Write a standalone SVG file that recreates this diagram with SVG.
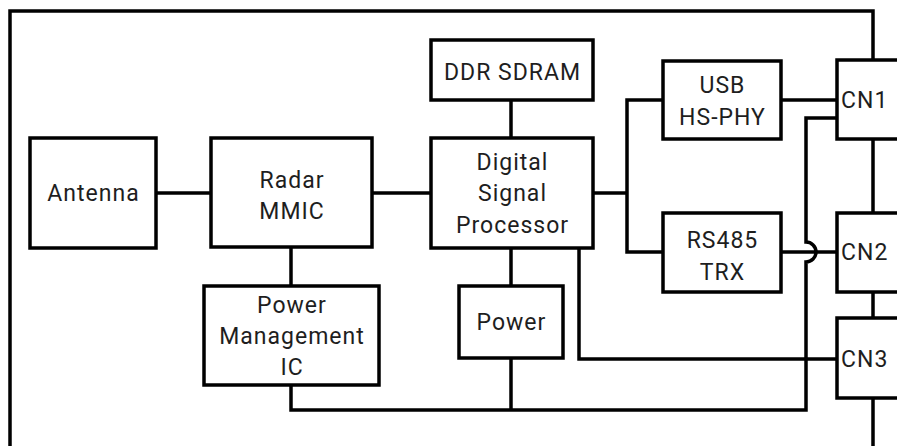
<svg xmlns="http://www.w3.org/2000/svg" width="897" height="446" viewBox="0 0 897 446">
  <style>
    .box { fill: #ffffff; stroke: #000000; stroke-width: 3.5; }
    .wire { fill: none; stroke: #000000; stroke-width: 3.5; stroke-linejoin: miter; }
    .lbl { font-family: Roboto, "Liberation Sans", sans-serif; font-size: 23px; letter-spacing: 1px; fill: #1e1e1e; text-anchor: middle; }
    .cn { font-family: Roboto, "Liberation Sans", sans-serif; font-size: 23px; letter-spacing: 1px; fill: #1e1e1e; }
  </style>
  <rect width="897" height="446" fill="#ffffff"/>

  <!-- enclosure outline -->
  <path class="wire" d="M10,446 V11 H873 V446"/>

  <!-- connectors -->
  <g id="connectors">
    <path class="wire" d="M156,193 H211"/>
    <path class="wire" d="M372,193 H431"/>
    <path class="wire" d="M511,100 V138"/>
    <path class="wire" d="M593,193 H627"/>
    <path class="wire" d="M663,100 H627 V252 H663"/>
    <path class="wire" d="M781,100 H837"/>
    <path class="wire" d="M781,252 H837"/>
    <path class="wire" d="M579,248 V359 H837"/>
    <path class="wire" d="M291,247 V286"/>
    <path class="wire" d="M511,248 V286"/>
    <path class="wire" d="M511,358 V410"/>
    <path class="wire" d="M291,385 V410 H806 V262 A10,10 0 0 0 806,242 V118 H837"/>
  </g>

  <g id="antenna">
    <rect class="box" x="30" y="138" width="126" height="110"/>
    <text class="lbl" x="93.5" y="201">Antenna</text>
  </g>

  <g id="radar-mmic">
    <rect class="box" x="211" y="138" width="161" height="109"/>
    <text class="lbl" x="292" y="188">Radar</text>
    <text class="lbl" x="292" y="219">MMIC</text>
  </g>

  <g id="ddr-sdram">
    <rect class="box" x="431" y="40" width="162" height="60"/>
    <text class="lbl" x="512.5" y="80">DDR SDRAM</text>
  </g>

  <g id="dsp">
    <rect class="box" x="431" y="138" width="162" height="110"/>
    <text class="lbl" x="512.5" y="170">Digital</text>
    <text class="lbl" x="512.5" y="201">Signal</text>
    <text class="lbl" x="512.5" y="233">Processor</text>
  </g>

  <g id="pmic">
    <rect class="box" x="204" y="286" width="175" height="99"/>
    <text class="lbl" x="292" y="313">Power</text>
    <text class="lbl" x="292" y="344">Management</text>
    <text class="lbl" x="292" y="375">IC</text>
  </g>

  <g id="power">
    <rect class="box" x="459" y="286" width="104" height="72"/>
    <text class="lbl" x="511.5" y="330">Power</text>
  </g>

  <g id="usb-phy">
    <rect class="box" x="663" y="61" width="118" height="78"/>
    <text class="lbl" x="722.5" y="93">USB</text>
    <text class="lbl" x="722.5" y="125">HS-PHY</text>
  </g>

  <g id="rs485">
    <rect class="box" x="663" y="213" width="118" height="79"/>
    <text class="lbl" x="722.5" y="248">RS485</text>
    <text class="lbl" x="722.5" y="280">TRX</text>
  </g>

  <g id="cn1">
    <rect class="box" x="837" y="60" width="80" height="79"/>
    <text class="cn" x="841" y="108">CN1</text>
  </g>

  <g id="cn2">
    <rect class="box" x="837" y="213" width="80" height="79"/>
    <text class="cn" x="841" y="260">CN2</text>
  </g>

  <g id="cn3">
    <rect class="box" x="837" y="318" width="80" height="80"/>
    <text class="cn" x="841" y="367">CN3</text>
  </g>
</svg>
